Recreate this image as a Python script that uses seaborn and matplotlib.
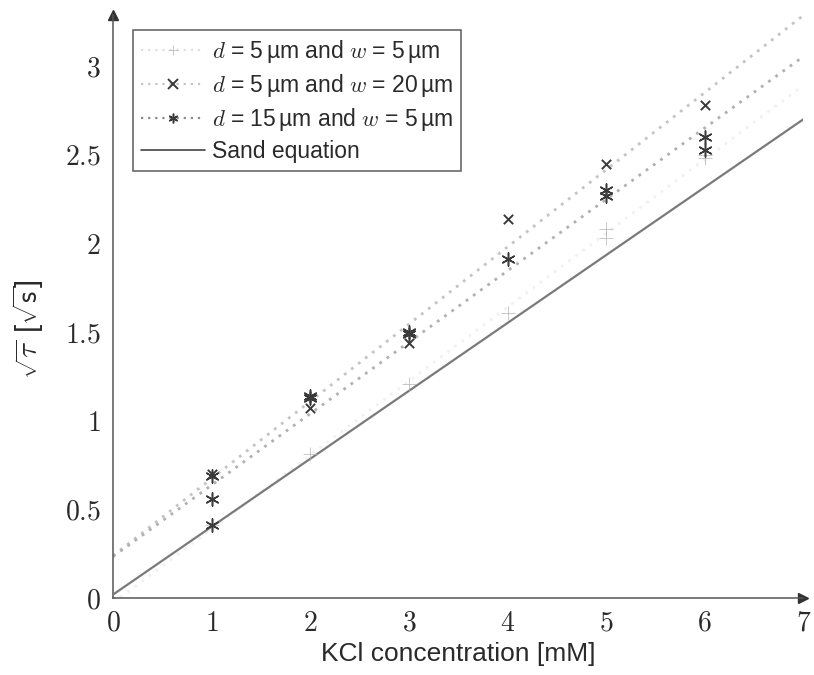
import numpy as np
import pandas as pd
import matplotlib
matplotlib.use("Agg")
import matplotlib.pyplot as plt
import seaborn as sns

# Measured sqrt(tau) against KCl concentration for three channel geometries
conc_a = [1, 2, 3, 4, 5, 5, 6, 6]
tau_a = [0.41, 0.81, 1.21, 1.61, 2.08, 2.03, 2.50, 2.48]

conc_b = [1, 2, 3, 4, 5, 6]
tau_b = [0.70, 1.07, 1.44, 2.14, 2.45, 2.78]

conc_c = [1, 1, 1, 2, 2, 3, 3, 4, 5, 5, 6, 6]
tau_c = [0.69, 0.56, 0.41, 1.13, 1.14, 1.50, 1.49, 1.91, 2.30, 2.27, 2.60, 2.53]

series_labels = [
    r"$d$ = 5$\,$µm and $w$ = 5$\,$µm",
    r"$d$ = 5$\,$µm and $w$ = 20$\,$µm",
    r"$d$ = 15$\,$µm and $w$ = 5$\,$µm",
]
sand_label = "Sand equation"

# Sand equation: sqrt(tau) = intercept + slope * c
sand_intercept = 0.02
sand_slope = 0.383
conc_range = [0, 7]

x_ticks = [0, 1, 2, 3, 4, 5, 6, 7]
y_ticks = [0, 0.5, 1, 1.5, 2, 2.5, 3]
y_tick_labels = ["0", "0.5", "1", "1.5", "2", "2.5", "3"]

sns.set_style("white")
plt.rcParams["font.family"] = ["Liberation Sans", "DejaVu Sans"]
plt.rcParams["mathtext.fontset"] = "cm"

fig = plt.figure(figsize=(8.14, 6.75), dpi=100)
ax = fig.add_axes([0.139, 0.114, 0.848, 0.864])
ax.set_xlim(0, 7.0)
ax.set_ylim(0, 3.29)

styles = [
    dict(marker="+", s=110, color="#b4b4b4", line="#f1f1f1", lw=0.5),
    dict(marker="x", s=45, color="#3a3a3a", line="#c4c4c4", lw=1.4),
    dict(marker=(6, 2, 0), s=90, color="#3a3a3a", line="#b0b0b0", lw=1.1),
]
legend_line = ["#e0e0e0", "#c4c4c4", "#8a8a8a"]
data = [(conc_a, tau_a), (conc_b, tau_b), (conc_c, tau_c)]

handles = []
for (xs, ys), st, lab, lc in zip(data, styles, series_labels, legend_line):
    df = pd.DataFrame({"c": xs, "t": ys})
    # least-squares fit line spanning the full axis range
    sns.regplot(data=df, x="c", y="t", ax=ax, scatter=False, ci=None,
                truncate=False,
                line_kws=dict(color=st["line"], lw=2.0, ls=(0, (1, 2.2)),
                              zorder=2))
    sns.scatterplot(data=df, x="c", y="t", ax=ax, marker=st["marker"],
                    s=st["s"], color=st["color"], linewidth=st["lw"],
                    edgecolor=st["color"], zorder=4, legend=False)
    h = matplotlib.lines.Line2D([], [], color=lc, lw=1.6,
                                ls=(0, (1, 2.2)), marker=st["marker"],
                                markersize=7, markeredgecolor=st["color"],
                                markerfacecolor=st["color"],
                                markeredgewidth=st["lw"])
    handles.append(h)

sand_df = pd.DataFrame({"c": conc_range,
                        "t": [sand_intercept + sand_slope * c for c in conc_range]})
sns.lineplot(data=sand_df, x="c", y="t", ax=ax, color="#7a7a7a", lw=1.6,
             zorder=3)
handles.append(matplotlib.lines.Line2D([], [], color="#444444", lw=1.2))

ax.set_xlim(0, 7.0)
ax.set_ylim(0, 3.29)

for side in ("top", "right"):
    ax.spines[side].set_visible(False)
for side in ("left", "bottom"):
    ax.spines[side].set_color("#555555")
    ax.spines[side].set_linewidth(1.1)

# arrow heads on the axis lines
ax.plot(1, 0, marker=">", color="#333333", markersize=7,
        transform=ax.transAxes, clip_on=False)
ax.plot(0, 1, marker="^", color="#333333", markersize=7,
        transform=ax.transAxes, clip_on=False)

ax.set_xticks(x_ticks)
ax.set_xticklabels([f"${v}$" for v in x_ticks])
ax.set_yticks(y_ticks)
ax.set_yticklabels([f"${v}$" for v in y_tick_labels])
ax.tick_params(axis="both", direction="inout", length=6, width=0.6,
               color="#cccccc", labelsize=20, labelcolor="#2a2a2a", pad=6)

ax.set_xlabel("KCl concentration [mM]", fontsize=19, color="#2a2a2a",
              labelpad=4)
ax.set_ylabel(r"$\sqrt{\tau}$ [$\sqrt{\mathsf{s}}$]", fontsize=21,
              color="#2a2a2a")
ax.yaxis.set_label_coords(-0.097, 0.46)

leg = ax.legend(handles, series_labels + [sand_label], loc="upper left",
                bbox_to_anchor=(0.029, 0.974), fontsize=16.5,
                frameon=True, fancybox=False, handlelength=2.8,
                handletextpad=0.3, borderpad=0.35, labelspacing=0.3,
                borderaxespad=0)
leg.get_frame().set_edgecolor("#333333")
leg.get_frame().set_linewidth(1.1)
for t in leg.get_texts():
    t.set_color("#2a2a2a")

fig.savefig("out.png", dpi=100, facecolor="white")
